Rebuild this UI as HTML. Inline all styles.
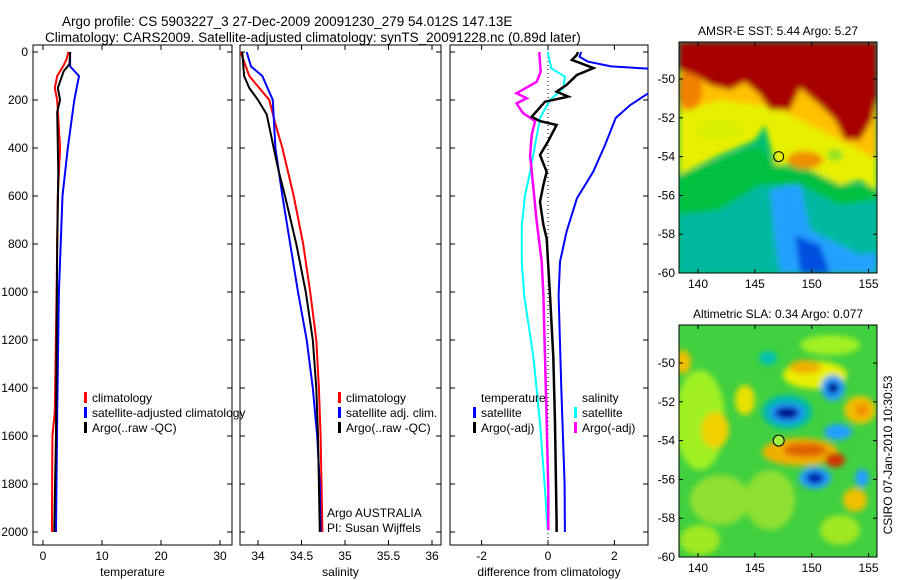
<!DOCTYPE html>
<html><head><meta charset="utf-8"><style>
html,body{margin:0;padding:0;background:#fff;}
svg{display:block;font-family:"Liberation Sans",sans-serif;}
</style></head><body>
<svg id="fig" width="900" height="580" viewBox="0 0 900 580" xmlns="http://www.w3.org/2000/svg">
<defs>
<filter id="bl" x="-20%" y="-20%" width="140%" height="140%"><feGaussianBlur stdDeviation="3"/></filter>
<clipPath id="c1"><rect x="679" y="42" width="198" height="231"/></clipPath>
<clipPath id="c2"><rect x="679" y="325" width="198" height="232"/></clipPath>
<clipPath id="cp1"><rect x="33" y="45" width="199" height="500"/></clipPath>
<clipPath id="cp2"><rect x="240" y="45" width="201" height="500"/></clipPath>
<clipPath id="cp3"><rect x="450" y="45" width="198" height="500"/></clipPath>
</defs>
<text x="62" y="26" font-size="13.5">Argo profile: CS 5903227_3 27-Dec-2009 20091230_279 54.012S 147.13E</text>
<text x="45" y="42" font-size="13.5">Climatology: CARS2009. Satellite-adjusted climatology: synTS_20091228.nc (0.89d later)</text>

<!-- SST map -->
<g clip-path="url(#c1)">
<rect x="679" y="42" width="198" height="231" fill="#00c070"/>
<g filter="url(#bl)">
<polygon fill="#00b8a0" points="679,215 720,205 760,175 800,180 840,195 877,190 877,273 679,273"/>
<polygon fill="#20a0ff" points="770,190 800,182 810,230 840,245 860,255 877,252 877,273 780,273 775,240"/>
<polygon fill="#0050e0" points="795,235 820,245 830,273 800,273"/>
<polygon fill="#00c040" points="679,175 720,160 745,150 760,148 775,165 810,170 850,185 877,185 877,200 840,205 800,185 760,185 720,210 679,215"/>
<polygon fill="#e8f000" points="679,105 720,95 760,100 800,110 840,120 877,105 877,190 860,180 840,185 810,170 790,165 775,165 765,125 755,140 720,155 679,175"/>
<polygon fill="#ffc000" points="679,60 877,60 877,160 860,150 840,140 820,130 800,120 780,110 760,105 720,100 679,112"/>
<ellipse cx="690" cy="90" rx="12" ry="20" fill="#f08000"/>
<ellipse cx="805" cy="160" rx="18" ry="9" fill="#f09000"/>
<ellipse cx="835" cy="155" rx="8" ry="6" fill="#90e020"/>
<ellipse cx="720" cy="130" rx="25" ry="10" fill="#d8f000"/>
<polygon fill="#a80000" points="679,42 877,42 877,98 872,120 860,140 845,140 835,120 820,105 800,88 790,110 770,110 760,95 745,82 730,90 710,85 695,75 679,70"/>
</g>
<circle cx="778.7" cy="156.6" r="5" fill="none" stroke="#000" stroke-width="1"/>
</g>
<rect x="679" y="42" width="198" height="231" fill="none" stroke="#000"/>
<text x="778" y="35" font-size="12" text-anchor="middle">AMSR-E SST: 5.44  Argo: 5.27</text>

<!-- SLA map -->
<g clip-path="url(#c2)">
<rect x="679" y="325" width="198" height="232" fill="#40d040"/>
<g filter="url(#bl)">
<ellipse cx="700" cy="420" rx="25" ry="50" fill="#a0f020"/>
<ellipse cx="715" cy="430" rx="14" ry="18" fill="#f0d000"/>
<ellipse cx="683" cy="362" rx="8" ry="12" fill="#f0c000"/>
<ellipse cx="745" cy="400" rx="10" ry="15" fill="#e8e000"/>
<ellipse cx="720" cy="500" rx="30" ry="25" fill="#90e030"/>
<ellipse cx="700" cy="540" rx="20" ry="15" fill="#a0e820"/>
<ellipse cx="830" cy="345" rx="30" ry="10" fill="#a0f020"/>
<ellipse cx="815" cy="375" rx="32" ry="14" fill="#e8f000"/>
<ellipse cx="805" cy="367" rx="16" ry="7" fill="#f0b000"/>
<ellipse cx="860" cy="410" rx="16" ry="14" fill="#f0c000"/>
<ellipse cx="862" cy="410" rx="7" ry="7" fill="#f09000"/>
<ellipse cx="770" cy="500" rx="25" ry="30" fill="#90e030"/>
<ellipse cx="855" cy="500" rx="12" ry="12" fill="#f0c000"/>
<ellipse cx="840" cy="530" rx="20" ry="15" fill="#a0e820"/>
<ellipse cx="800" cy="452" rx="38" ry="14" fill="#f0b000"/>
<ellipse cx="805" cy="450" rx="22" ry="7" fill="#e06000"/>
<ellipse cx="835" cy="460" rx="10" ry="7" fill="#d03000"/>
<ellipse cx="787" cy="412" rx="25" ry="17" fill="#00b8b0"/>
<ellipse cx="787" cy="413" rx="17" ry="10" fill="#2090ff"/>
<ellipse cx="787" cy="413" rx="12" ry="6" fill="#000090"/>
<ellipse cx="768" cy="358" rx="9" ry="7" fill="#00c0b0"/>
<ellipse cx="833" cy="388" rx="12" ry="13" fill="#20a0ff"/>
<ellipse cx="833" cy="388" rx="6" ry="6" fill="#001090"/>
<ellipse cx="838" cy="432" rx="14" ry="8" fill="#20a0ff"/>
<ellipse cx="815" cy="478" rx="16" ry="11" fill="#20a0ff"/>
<ellipse cx="815" cy="478" rx="9" ry="6" fill="#0020b0"/>
<ellipse cx="862" cy="478" rx="7" ry="9" fill="#20a0ff"/>
</g>
<circle cx="778.7" cy="440.6" r="5.5" fill="#a0f040" stroke="#000" stroke-width="1"/>
</g>
<rect x="679" y="325" width="198" height="232" fill="none" stroke="#000"/>
<text x="778" y="318" font-size="12" text-anchor="middle">Altimetric SLA: 0.34  Argo: 0.077</text>
<text transform="translate(892,455) rotate(-90)" font-size="12" text-anchor="middle">CSIRO 07-Jan-2010 10:30:53</text>
<g id="mapaxes"></g>

<g id="panels"></g>
</svg>
<script>
// ---- profile data (depth in m) ----
const tempClimDepth = [0,30,60,100,150,200,400,600,1000,1500,1600,2000];
const tempClim      = [4.3,4.0,3.4,2.4,2.0,2.4,2.9,2.5,2.3,2.0,1.6,1.5];
const tempSatDepth  = [0,60,100,200,400,600,1000,1500,2000];
const tempSat       = [4.6,4.6,6.1,5.3,4.2,3.3,2.7,2.4,2.2];
const tempArgoDepth = [0,50,80,150,200,250,500,800,1200,1600,2000];
const tempArgo      = [4.6,4.5,3.5,2.5,2.9,2.4,2.6,2.4,2.3,2.2,1.9];

const salClimDepth = [0,100,200,300,400,600,800,1000,1200,1400,1600,2000];
const salClim      = [33.8,33.9,34.13,34.2,34.28,34.41,34.52,34.6,34.67,34.7,34.72,34.74];
const salSatDepth  = [0,60,100,200,400,600,800,1000,1200,1400,1600,1800,2000];
const salSat       = [33.87,33.92,34.05,34.17,34.2,34.28,34.37,34.46,34.56,34.63,34.68,34.71,34.72];
const salArgoDepth = [0,100,150,200,260,400,500,600,800,1000,1200,1400,1600,2000];
const salArgo      = [33.82,33.84,33.9,34.0,34.1,34.18,34.24,34.31,34.44,34.55,34.63,34.67,34.69,34.71];

const dTSatDepth = [0,20,40,60,70,165,221,275,387,499,610,748,874,1013,1400,1800,2000];
const dTSat      = [1.0,0.95,1.2,1.9,3.1,3.1,2.48,2.04,1.72,1.36,0.87,0.56,0.36,0.32,0.4,0.5,0.51];
const dTArgoDepth = [0,12,33,67,96,137,165,186,207,270,288,304,373,429,499,554,624,721,777,874,1013,1270,1546,1963,2000];
const dTArgo      = [0.9,0.87,0.72,1.37,0.87,0.56,0.26,0.61,-0.09,-0.49,-0.24,0.26,0,-0.24,-0.04,-0.14,-0.24,-0.14,-0.04,0,0.06,0.16,0.21,0.26,0.26];
const dSSatDepth = [0,4,68,103,151,200,275,387,499,596,721,874,1013,1270,1546,1825,1992];
const dSSat      = [0,0,0.1,0.51,0.46,0.06,-0.24,-0.39,-0.54,-0.69,-0.79,-0.79,-0.72,-0.44,-0.24,-0.09,-0.01];
const dSArgoDepth = [0,12,82,124,172,193,214,255,288,346,429,568,707,874,1013,1270,1546,1825,1992];
const dSArgo      = [-0.26,-0.26,-0.22,-0.34,-0.95,-0.64,-0.95,-0.75,-0.39,-0.49,-0.54,-0.44,-0.34,-0.19,-0.14,-0.09,-0.04,0.01,0.01];

const depthTicks = [0,200,400,600,800,1000,1200,1400,1600,1800,2000];
const tempTicks = [0,10,20,30];
const salTicks = [34,34.5,35,35.5,36];
const salTickLabels = ["34","34.5","35","35.5","36"];
const diffTicks = [-2,0,2];
const lonTicks = [140,145,150,155];
const latTicks = [-50,-52,-54,-56,-58,-60];

const NS="http://www.w3.org/2000/svg";
function mk(tag, attrs, parent){const e=document.createElementNS(NS,tag);for(const k in attrs)e.setAttribute(k,attrs[k]);parent.appendChild(e);return e;}
const yD = d => 52 + d*0.24;
const panels=document.getElementById('panels');

const P = [
 {x0:33,x1:232,fx:v=>43+5.9*v,ticks:tempTicks,labels:tempTicks.map(String),label:"temperature",clip:"cp1",name:"temperature"},
 {x0:240,x1:441,fx:v=>258+87*(v-34),ticks:salTicks,labels:salTickLabels,label:"salinity",clip:"cp2",name:"salinity"},
 {x0:450,x1:648,fx:v=>548+33.2*v,ticks:diffTicks,labels:diffTicks.map(String),label:"difference from climatology",clip:"cp3",name:"difference"}
];
P.forEach((p,i)=>{
  const g=mk('g',{},panels);
  
  
  const r=mk('rect',{x:p.x0,y:45,width:p.x1-p.x0,height:500,fill:'none',stroke:'#000'},g);
  
  
  depthTicks.forEach(d=>{
    mk('line',{x1:p.x0,x2:p.x0+5,y1:yD(d),y2:yD(d),stroke:'#000'},g);
    mk('line',{x1:p.x1,x2:p.x1-5,y1:yD(d),y2:yD(d),stroke:'#000'},g);
    if(i===0){const t=mk('text',{x:28,y:yD(d)+4,'font-size':12,'text-anchor':'end'},g);t.textContent=d;
      
      }
  });
  p.ticks.forEach((v,k)=>{
    const x=p.fx(v);
    mk('line',{x1:x,x2:x,y1:545,y2:540,stroke:'#000'},g);
    mk('line',{x1:x,x2:x,y1:45,y2:50,stroke:'#000'},g);
    const t=mk('text',{x:x,y:560,'font-size':12,'text-anchor':'middle'},g);t.textContent=p.labels[k];
    
    
  });
  const xl=mk('text',{x:(p.x0+p.x1)/2,y:576,'font-size':12,'text-anchor':'middle'},g);xl.textContent=p.label;
  
  
});
function line(pi, depths, vals, color, w, name){
  const p=P[pi];
  const pts=depths.map((d,k)=>p.fx(vals[k]).toFixed(1)+','+yD(d).toFixed(1)).join(' ');
  const e=mk('polyline',{points:pts,fill:'none',stroke:color,'stroke-width':w,'clip-path':'url(#'+p.clip+')'},panels);
  
  
}
const zl=mk('line',{x1:548,x2:548,y1:45,y2:545,stroke:'#000','stroke-dasharray':'1,3'},panels);



line(0,tempClimDepth,tempClim,'#f00',2,'temp-climatology-line');
line(0,tempSatDepth,tempSat,'#00f',2,'temp-satellite-line');
line(0,tempArgoDepth,tempArgo,'#000',2,'temp-argo-line');
line(1,salClimDepth,salClim,'#f00',2,'sal-climatology-line');
line(1,salSatDepth,salSat,'#00f',2,'sal-satellite-line');
line(1,salArgoDepth,salArgo,'#000',2,'sal-argo-line');
line(2,dSSatDepth,dSSat,'#0ff',2,'diff-sal-satellite-line');
line(2,dSArgoDepth,dSArgo,'#f0f',2.5,'diff-sal-argo-line');
line(2,dTArgoDepth,dTArgo,'#000',2.5,'diff-temp-argo-line');
line(2,dTSatDepth,dTSat,'#00f',2,'diff-temp-satellite-line');

function legend(x,y,color,txt,name){
  if(color){const m=mk('rect',{x:x,y:y-10,width:3,height:11,fill:color},panels);
    
    }
  const t=mk('text',{x:x+8,y:y,'font-size':12},panels);t.textContent=txt;
  
  
}
legend(84,402,'#f00','climatology','legend-climatology');
legend(84,417,'#00f','satellite-adjusted climatology','legend-satellite-adjusted');
legend(84,432,'#000','Argo(..raw -QC)','legend-argo');
legend(338,402,'#f00','climatology','legend-sal-climatology');
legend(338,417,'#00f','satellite adj. clim.','legend-sal-satellite');
legend(338,432,'#000','Argo(..raw -QC)','legend-sal-argo');
legend(473,402,null,'temperature','legend-temperature-header');
legend(473,417,'#00f','satellite','legend-diff-temp-satellite');
legend(473,432,'#000','Argo(-adj)','legend-diff-temp-argo');
legend(574,402,null,'salinity','legend-salinity-header');
legend(574,417,'#0ff','satellite','legend-diff-sal-satellite');
legend(574,432,'#f0f','Argo(-adj)','legend-diff-sal-argo');
const a1=mk('text',{x:327,y:517,'font-size':12},panels);a1.textContent='Argo AUSTRALIA';


const a2=mk('text',{x:327,y:532,'font-size':12},panels);a2.textContent='PI: Susan Wijffels';



const ma=document.getElementById('mapaxes');
const lonX = l => 698+(l-140)*11.37;
[[79,42,273,'sst'],[363,325,557,'sla']].forEach(([y50,top,bot,nm])=>{
  const latY = l => y50 + (-50-l)*19.4;
  lonTicks.forEach(l=>{
    const x=lonX(l);
    mk('line',{x1:x,x2:x,y1:top,y2:top+4,stroke:'#000'},ma);
    mk('line',{x1:x,x2:x,y1:bot,y2:bot-4,stroke:'#000'},ma);
    const t=mk('text',{x:x,y:bot+15,'font-size':12,'text-anchor':'middle'},ma);t.textContent=l;
    
    
  });
  latTicks.forEach(l=>{
    const y=latY(l);
    mk('line',{x1:679,x2:683,y1:y,y2:y,stroke:'#000'},ma);
    mk('line',{x1:877,x2:873,y1:y,y2:y,stroke:'#000'},ma);
    const t=mk('text',{x:675,y:y+4,'font-size':12,'text-anchor':'end'},ma);t.textContent=l;
    
    
  });
});
</script>
</body></html>
